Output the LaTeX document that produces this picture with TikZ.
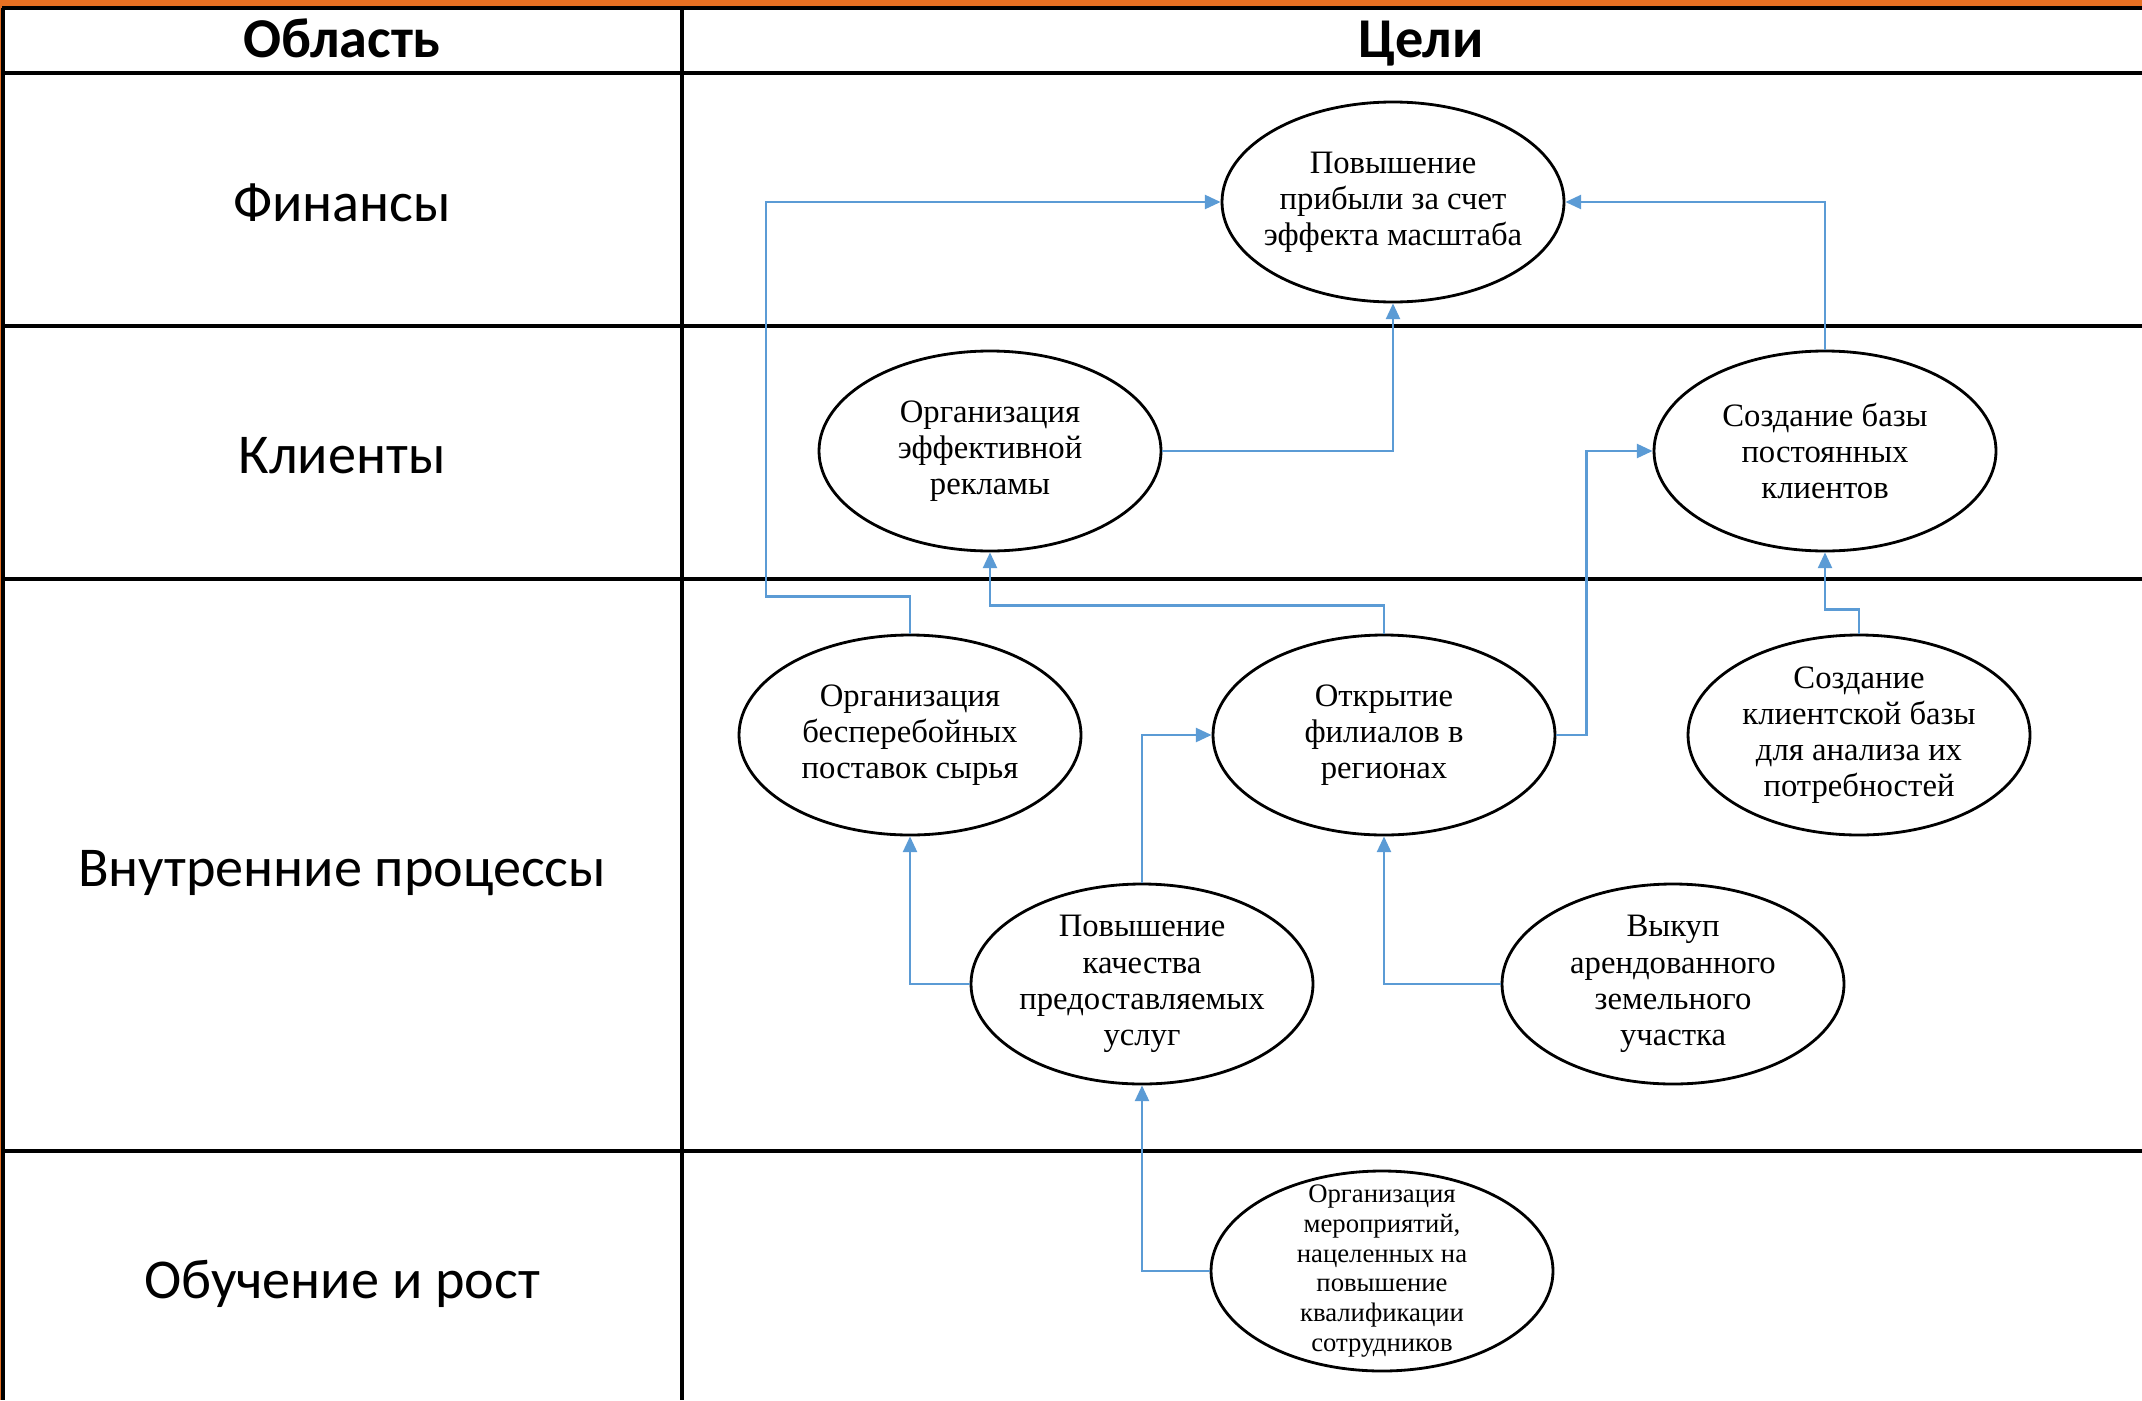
\documentclass[tikz,border=0pt]{standalone}
\usepackage{fontspec}
\setmainfont{Liberation Serif}
\newfontfamily\tablefont{Carlito}
\usetikzlibrary{shapes.geometric,arrows.meta}
\definecolor{linkblue}{RGB}{91,155,213}
\definecolor{barorange}{RGB}{232,112,34}
\tikzset{>={Triangle[length=4.5pt,width=4pt]}}
\tikzset{
  goal/.style={ellipse, draw=black, line width=0.8pt, fill=white,
    minimum width=3.42cm, minimum height=2cm, inner sep=-10pt,
    align=center, font=\fontsize{9.3}{10.3}\selectfont},
  link/.style={->, draw=linkblue, line width=0.7pt},
  grid/.style={draw=black, line width=1.1pt},
  area/.style={font=\tablefont\fontsize{16}{19}\selectfont},
  head/.style={anchor=base, font=\tablefont\bfseries\fontsize{16}{19}\selectfont},
}

\begin{document}
\begin{tikzpicture}

    \useasboundingbox (0,0) rectangle (21.42,-14);

    % Orange frame of the slide
    \fill[barorange] (0,0) rectangle (21.42,-0.07);
    \fill[barorange] (0,0) rectangle (0.02,-14);

    % Draw table
    \draw[grid] (0.02,-0.08) -- (21.42,-0.08);
    \draw[grid] (0.02,-0.73) -- (21.42,-0.73);
    \draw[grid] (0.02,-3.26) -- (21.42,-3.26);
    \draw[grid] (0.02,-5.79) -- (21.42,-5.79);
    \draw[grid] (0.02,-11.51) -- (21.42,-11.51);
    \draw[grid] (0.03,-0.08) -- (0.03,-14);
    \draw[grid] (6.82,-0.08) -- (6.82,-14);

    % Header and areas
    \node[head] (hdarea) at (3.42,-0.57) {Область};
    \node[head] (hdgoals) at (14.21,-0.57) {Цели};
    \node[area] (finance) at (3.42,-2.03) {Финансы};
    \node[area] (clients) at (3.42,-4.56) {Клиенты};
    \node[area] (process) at (3.42,-8.73) {Внутренние процессы};
    \node[area] (growth) at (3.42,-12.84) {Обучение и рост};

    % Goals
    \node[goal] (profit) at (13.93,-2.02) {Повышение\\прибыли за счет\\эффекта масштаба};
    \node[goal] (ads) at (9.90,-4.51) {Организация\\эффективной\\рекламы};
    \node[goal] (loyal) at (18.25,-4.51) {Создание базы\\постоянных\\клиентов};
    \node[goal] (supply) at (9.10,-7.35) {Организация\\бесперебойных\\поставок сырья};
    \node[goal] (branch) at (13.84,-7.35) {Открытие\\филиалов в\\регионах};
    \node[goal] (crm) at (18.59,-7.35) {Создание\\клиентской базы\\для анализа их\\потребностей};
    \node[goal] (quality) at (11.42,-9.84) {Повышение\\качества\\предоставляемых\\услуг};
    \node[goal] (land) at (16.73,-9.84) {Выкуп\\арендованного\\земельного\\участка};
    \node[goal, font=\fontsize{7.6}{8.5}\selectfont] (training) at (13.82,-12.71) {Организация\\мероприятий,\\нацеленных на\\повышение\\квалификации\\сотрудников};

    % Links between goals
    \draw[link] (supply.north) -- ++(0,0.37) -- ++(-1.44,0) |- (profit.west);
    \draw[link] (ads.east) -| (profit.south);
    \draw[link] (loyal.north) |- (profit.east);
    \draw[link] (branch.north) -- ++(0,0.28) -| (ads.south);
    \draw[link] (branch.east) -- ++(0.30,0) |- (loyal.west);
    \draw[link] (crm.north) -- ++(0,0.24) -| (loyal.south);
    \draw[link] (quality.west) -| (supply.south);
    \draw[link] (quality.north) |- (branch.west);
    \draw[link] (land.west) -| (branch.south);
    \draw[link] (training.west) -| (quality.south);

\end{tikzpicture}
\end{document}
